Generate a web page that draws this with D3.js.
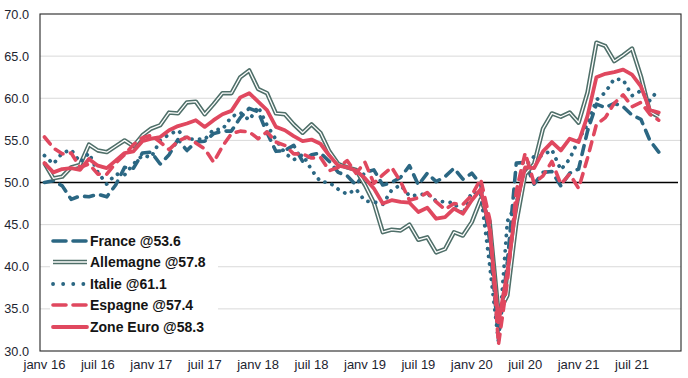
<!DOCTYPE html>
<html>
<head>
<meta charset="utf-8">
<script src="https://cdn.jsdelivr.net/npm/d3@7"></script>
<style>
  html, body { margin: 0; padding: 0; background: #fff; }
  svg { display: block; }
  text { font-family: "Liberation Sans", Arial, sans-serif; }
</style>
</head>
<body>
<svg id="chart" width="688" height="378"></svg>
<script>
// Months on the axis: janv 2016 -> déc 2021 (data to oct 2021)
const monthNames = ["janv", "févr", "mars", "avr", "mai", "juin", "juil", "août", "sept", "oct", "nov", "déc"];
const years = [16, 17, 18, 19, 20, 21];
const categories = [];
years.forEach(y => monthNames.forEach(m => categories.push(m + " " + y)));

const tickLabels = ["janv 16", "juil 16", "janv 17", "juil 17", "janv 18", "juil 18",
  "janv 19", "juil 19", "janv 20", "juil 20", "janv 21", "juil 21"];
const yTicks = [30, 35, 40, 45, 50, 55, 60, 65, 70];

const france = [
  50.0, 50.2, 49.6, 48.0, 48.4, 48.3, 48.6, 48.3, 49.7, 51.8, 51.7, 53.5,
  53.6, 52.2, 53.3, 55.1, 53.8, 54.8, 54.9, 55.8, 56.1, 56.1, 57.7, 58.8,
  58.4, 55.9, 53.7, 53.8, 54.4, 52.5, 53.3, 53.5, 52.5, 51.2, 50.8, 49.7,
  51.2, 51.5, 49.7, 50.0, 50.6, 52.0, 49.7, 51.1, 50.1, 50.7, 51.7, 50.4,
  51.1, 49.8, 43.2, 31.5, 40.6, 52.3, 52.4, 49.8, 51.2, 51.3, 49.6, 51.1,
  51.6, 56.1, 59.3, 58.9, 59.4, 59.0, 58.0, 57.5, 55.0, 53.6];
const allemagne = [
  52.3, 50.5, 50.7, 51.8, 52.1, 54.5, 53.8, 53.6, 54.3, 55.0, 54.3, 55.6,
  56.4, 56.8, 58.3, 58.2, 59.5, 59.6, 58.1, 59.3, 60.6, 60.6, 62.5, 63.3,
  61.1, 60.6, 58.2, 58.1, 56.9, 55.9, 56.9, 55.9, 53.7, 52.2, 51.8, 51.5,
  49.7, 47.6, 44.1, 44.4, 44.3, 45.0, 43.2, 43.5, 41.7, 42.1, 44.1, 43.7,
  45.3, 48.0, 45.4, 34.5, 36.6, 45.2, 51.0, 52.2, 56.4, 58.2, 57.8, 58.3,
  57.1, 60.7, 66.6, 66.2, 64.4, 65.1, 65.9, 62.6, 58.4, 57.8];
const italie = [
  53.2, 52.2, 53.5, 53.9, 52.4, 53.5, 51.2, 49.8, 51.0, 50.9, 52.2, 53.2,
  53.0, 55.0, 55.7, 56.2, 55.1, 55.2, 55.1, 56.3, 56.3, 57.8, 58.3, 57.4,
  59.0, 56.8, 55.1, 53.5, 52.7, 53.3, 51.5, 50.1, 50.0, 49.2, 48.6, 49.2,
  47.8, 47.7, 47.4, 49.1, 49.7, 48.4, 48.5, 48.7, 47.8, 47.7, 47.6, 46.2,
  48.9, 48.7, 40.3, 31.1, 45.4, 47.5, 51.9, 53.1, 53.2, 53.9, 51.5, 52.8,
  55.1, 56.9, 59.8, 60.7, 62.3, 62.2, 60.3, 60.9, 59.7, 61.1];
const espagne = [
  55.4, 54.1, 53.4, 53.5, 51.8, 52.2, 51.0, 51.0, 52.3, 53.3, 54.5, 55.3,
  55.6, 54.8, 53.9, 54.9, 55.4, 54.7, 54.0, 52.4, 54.3, 55.8, 56.1, 56.0,
  55.2, 56.0, 54.8, 54.4, 53.4, 53.4, 52.9, 53.0, 51.4, 51.8, 52.6, 51.1,
  52.4, 49.9, 50.9, 51.8, 50.1, 47.9, 48.2, 48.8, 47.7, 46.8, 47.5, 47.4,
  48.5, 50.4, 45.7, 30.8, 38.3, 49.0, 53.5, 49.9, 50.8, 52.5, 49.8, 51.0,
  49.3, 52.9, 56.9, 57.7, 59.4, 60.4, 59.0, 59.5, 58.1, 57.4];
const zoneEuro = [
  52.3, 51.2, 51.6, 51.7, 51.5, 52.8, 52.0, 51.7, 52.6, 53.5, 53.7, 54.9,
  55.2, 55.4, 56.2, 56.7, 57.0, 57.4, 56.6, 57.4, 58.1, 58.5, 60.1, 60.6,
  59.6, 58.6, 56.6, 56.2, 55.5, 54.9, 55.1, 54.6, 53.2, 52.0, 51.8, 51.4,
  50.5, 49.3, 47.5, 47.9, 47.7, 47.6, 46.5, 47.0, 45.7, 45.9, 46.9, 46.3,
  47.9, 49.2, 44.5, 33.4, 39.4, 47.4, 51.8, 51.7, 53.7, 54.8, 53.8, 55.2,
  54.8, 57.9, 62.5, 62.9, 63.1, 63.4, 62.8, 61.4, 58.6, 58.3];

const seriesNames = ["France @53.6", "Allemagne @57.8", "Italie @61.1", "Espagne @57.4", "Zone Euro @58.3"];

const BLUE = "#2b6783";
const RED = "#e0485f";
const GREEN = "#4f6f69";

const styles = [
  { color: BLUE, width: 3.6, dash: "9,7.5", legDash: "13,7", cap: "round", double: false },
  { color: GREEN, width: 4.4, dash: null, legDash: null, cap: "butt", double: true },
  { color: BLUE, width: 3.8, dash: "0.1,7.6", legDash: "0.1,10", cap: "round", double: false },
  { color: RED, width: 3.6, dash: "9,7.5", legDash: "13,7", cap: "round", double: false },
  { color: RED, width: 3.8, dash: null, legDash: null, cap: "round", double: false }
];
const seriesData = [france, allemagne, italie, espagne, zoneEuro];

const svg = d3.select("#chart");
const L = 40, R = 681, T = 14, B = 351;

const x = d3.scaleBand().domain(categories).range([L, R]).padding(0);
const xc = i => x(categories[i]) + x.bandwidth() / 2;
const y = d3.scaleLinear().domain([30, 70]).range([B, T]);

// gridlines
svg.append("g").selectAll("line").data(yTicks.filter(v => v !== 30 && v !== 70 && v !== 50))
  .join("line")
  .attr("x1", L).attr("x2", R)
  .attr("y1", d => y(d)).attr("y2", d => y(d))
  .attr("stroke", "#d9d9d9").attr("stroke-width", 1);

// y axis labels
const yAxis = d3.axisLeft(y).tickValues(yTicks).tickFormat(d3.format(".1f")).tickSize(0).tickPadding(11);
const gy = svg.append("g").attr("transform", `translate(${L},0)`).call(yAxis);
gy.select(".domain").remove();
gy.selectAll("text").attr("font-size", "12.7px").attr("fill", "#1d2430")
  .attr("font-family", "Liberation Sans, Arial, sans-serif");

// x axis labels
const xAxis = d3.axisBottom(x).tickValues(tickLabels).tickSize(0).tickPadding(9);
const gx = svg.append("g").attr("transform", `translate(0,${B})`).call(xAxis);
gx.select(".domain").remove();
gx.selectAll("text").attr("font-size", "13px").attr("fill", "#1d2430")
  .attr("font-family", "Liberation Sans, Arial, sans-serif");

// plot border
svg.append("rect").attr("x", L).attr("y", T).attr("width", R - L).attr("height", B - T)
  .attr("fill", "none").attr("stroke", "#262626").attr("stroke-width", 1.1);

// 50 reference line
svg.append("line").attr("x1", L).attr("x2", R - 3).attr("y1", y(50)).attr("y2", y(50))
  .attr("stroke", "#000").attr("stroke-width", 1.6);

// series
const line = d3.line().x((d, i) => xc(i)).y(d => y(d));
seriesData.forEach((data, k) => {
  const s = styles[k];
  const p = svg.append("path").datum(data).attr("d", line)
    .attr("fill", "none").attr("stroke", s.color).attr("stroke-width", s.width)
    .attr("stroke-linecap", s.cap).attr("stroke-linejoin", "round");
  if (s.dash) p.attr("stroke-dasharray", s.dash);
  if (s.double) {
    svg.append("path").datum(data).attr("d", line)
      .attr("fill", "none").attr("stroke", "#fff").attr("stroke-width", 1.3)
      .attr("stroke-linejoin", "round");
  }
});

// legend
const lg = svg.append("g");
lg.append("rect").attr("x", 50).attr("y", 231).attr("width", 168).attr("height", 106).attr("fill", "#fff");
const legY = [241, 262, 284, 305, 327];
seriesNames.forEach((name, k) => {
  const s = styles[k];
  const yy = legY[k];
  const l = lg.append("line").attr("x1", 53).attr("x2", 87).attr("y1", yy).attr("y2", yy)
    .attr("stroke", s.color).attr("stroke-width", s.width).attr("stroke-linecap", s.cap);
  if (s.legDash) l.attr("stroke-dasharray", s.legDash);
  if (s.double) {
    lg.append("line").attr("x1", 53).attr("x2", 88).attr("y1", yy).attr("y2", yy)
      .attr("stroke", "#fff").attr("stroke-width", 1.3);
  }
  lg.append("text").attr("x", 90).attr("y", yy + 5).text(name)
    .attr("font-size", "14px").attr("font-weight", "bold").attr("fill", "#141414");
});
</script>
</body>
</html>
